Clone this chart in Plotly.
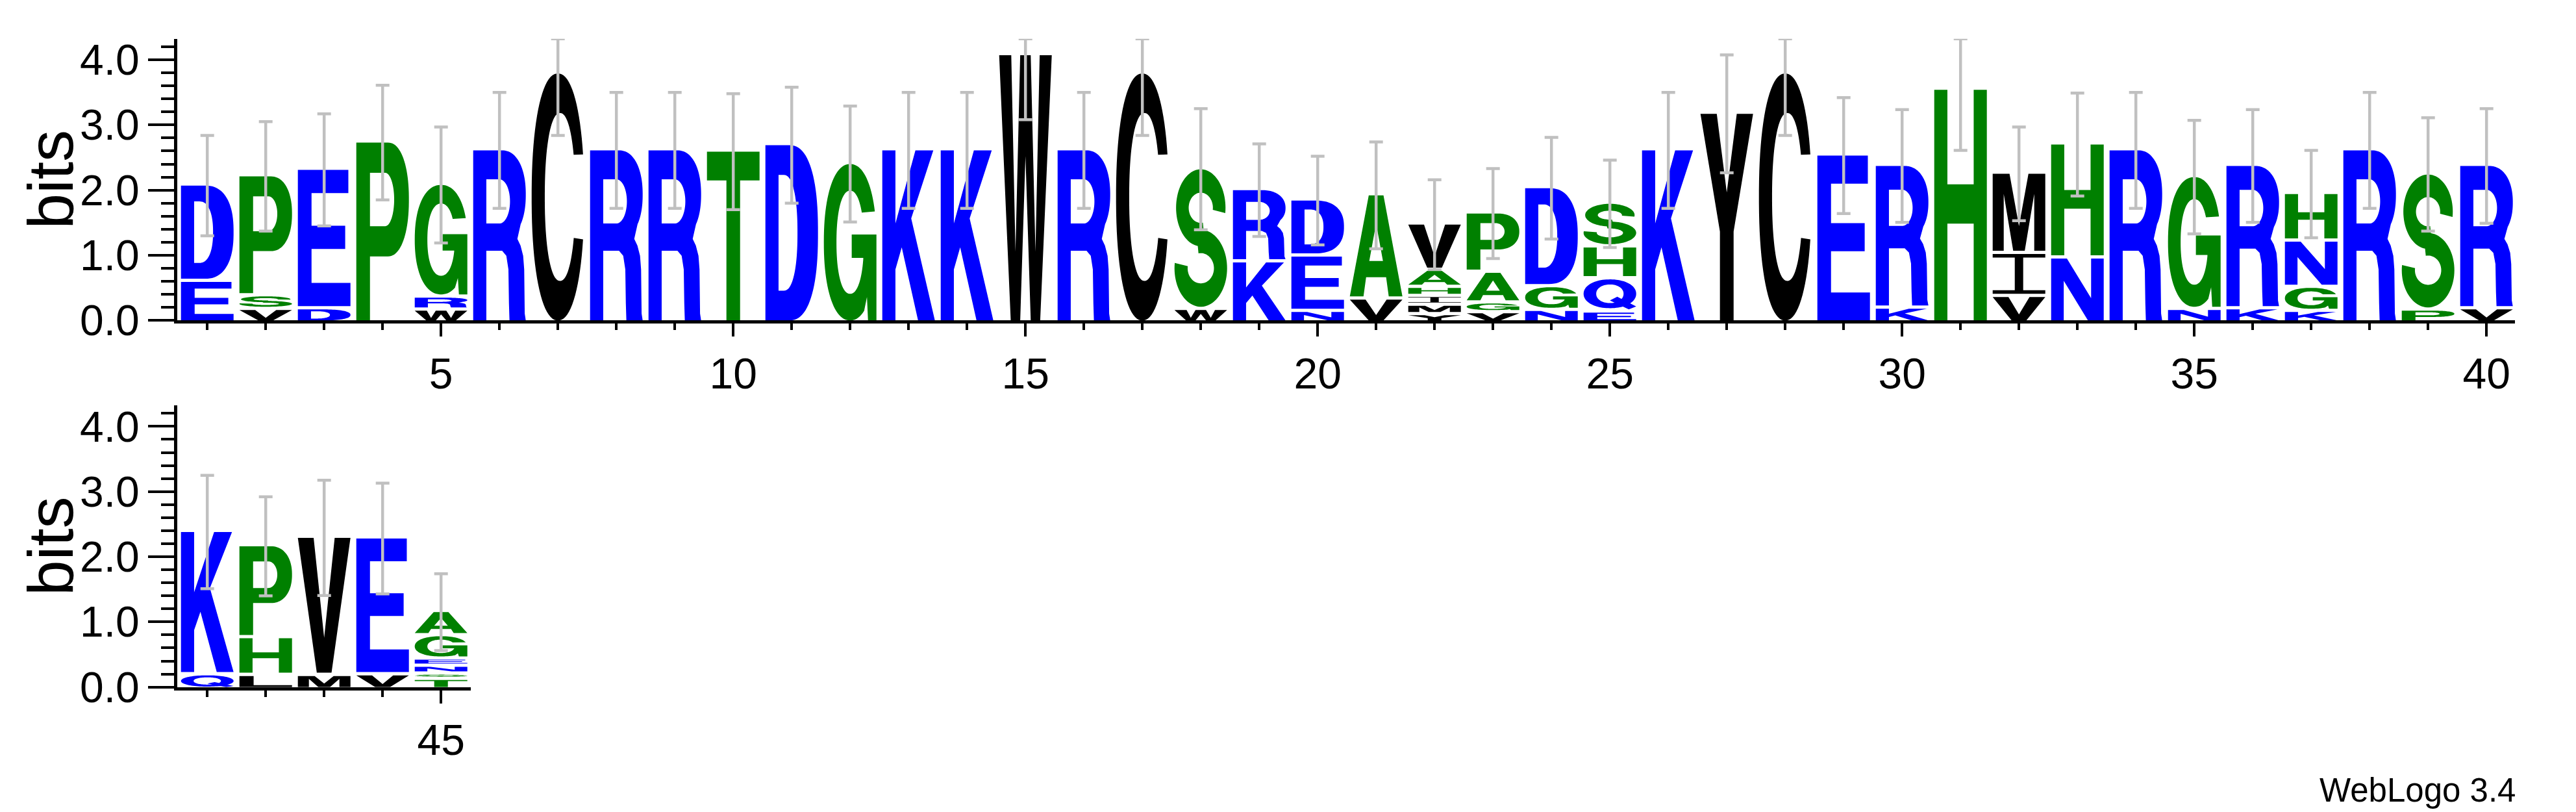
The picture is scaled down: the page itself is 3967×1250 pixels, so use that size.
import numpy as np
import plotly.graph_objects as go

W, H = 3967, 1250

# ---------------- data ----------------
positions = list(range(1, 46))
stack_letters = ["ED", "VSP", "DE", "P", "WRG", "R", "C", "R", "R", "T",
                 "D", "G", "K", "K", "W", "R", "C", "WS", "KR", "NED",
                 "VA", "YMIHAV", "VGAP", "NGD", "EQHS", "K", "Y", "C", "E", "KR",
                 "H", "VIM", "NH", "R", "NG", "KR", "KGNH", "R", "PS", "VR",
                 "QK", "LHP", "MV", "VE", "TSNEGA"]
stack_heights = [[0.59, 1.48], [0.16, 0.21, 1.84], [0.17, 2.14], [2.73], [0.15, 0.20, 1.73],
                 [2.61], [3.79], [2.61], [2.61], [2.59],
                 [2.69], [2.40], [2.61], [2.61], [4.07],
                 [2.61], [3.79], [0.16, 2.16], [0.89, 1.11], [0.13, 0.85, 0.86],
                 [0.32, 1.60], [0.08, 0.145, 0.135, 0.14, 0.26, 0.71], [0.11, 0.15, 0.47, 0.91],
                 [0.145, 0.365, 1.52], [0.12, 0.51, 0.49, 0.67],
                 [2.61], [3.17], [3.79], [2.53], [0.18, 2.19],
                 [3.54], [0.36, 0.66, 1.23], [0.95, 1.75], [2.61], [0.16, 2.04],
                 [0.17, 2.20], [0.13, 0.37, 0.71, 0.73], [2.61], [0.15, 2.09], [0.17, 2.20],
                 [0.18, 2.20], [0.17, 0.58, 1.41], [0.17, 2.12], [0.18, 2.10],
                 [0.11, 0.08, 0.12, 0.11, 0.36, 0.37]]
error_half = [0.77, 0.84, 0.86, 0.88, 0.89, 0.89, 0.95, 0.89, 0.89, 0.89,
              0.89, 0.89, 0.89, 0.89, 0.99, 0.89, 0.95, 0.93, 0.71, 0.68,
              0.82, 0.69, 0.69, 0.78, 0.67, 0.89, 0.905, 0.95, 0.89, 0.865,
              0.93, 0.72, 0.79, 0.89, 0.87, 0.865, 0.67, 0.89, 0.87, 0.88,
              0.87, 0.76, 0.885, 0.85, 0.59]
top_xticks = [5, 10, 15, 20, 25, 30, 35, 40]
bottom_xticks = [45]
y_tick_vals = [0, 1, 2, 3, 4]
y_tick_text = ["0.0", "1.0", "2.0", "3.0", "4.0"]

MAXBITS = np.log2(20)
GAP = 0.05
colors = {}
for c in "DERKNQ":
    colors[c] = "#0000FF"
for c in "PSGTAH":
    colors[c] = "#008000"
for c in "VWCYMIL":
    colors[c] = "#000000"

FONT = "Liberation Sans, Arial, Helvetica, sans-serif"


# ---------------- glyph outlines (unit box) ----------------
def arc(cx, cy, rx, ry, a0, a1, n=48, p=2.0):
    t = np.radians(np.linspace(a0, a1, n))
    c, s = np.cos(t), np.sin(t)
    e = 2.0 / p
    x = cx + rx * np.sign(c) * np.abs(c) ** e
    y = cy + ry * np.sign(s) * np.abs(s) ** e
    return list(zip(x, y))


def rect(x0, y0, x1, y1):
    return [(x0, y0), (x1, y0), (x1, y1), (x0, y1)]


def glyph(L):
    if L == "E":
        return [(rect(0, 0, 0.26, 1), 0), (rect(0, 0.83, 0.96, 1), 0),
                (rect(0, 0.42, 0.9, 0.59), 0), (rect(0, 0, 1, 0.17), 0)]
    if L == "H":
        return [(rect(0, 0, 0.25, 1), 0), (rect(0.75, 0, 1, 1), 0), (rect(0, 0.42, 1, 0.59), 0)]
    if L == "I":
        return [(rect(0, 0, 1, 0.09), 0), (rect(0, 0.91, 1, 1), 0), (rect(0.42, 0, 0.58, 1), 0)]
    if L == "T":
        return [(rect(0, 0.83, 1, 1), 0), (rect(0.37, 0, 0.63, 1), 0)]
    if L == "L":
        return [(rect(0, 0, 0.27, 1), 0), (rect(0, 0, 1, 0.17), 0)]
    if L == "D":
        outer = [(0, 0), (0.45, 0)] + arc(0.45, 0.5, 0.55, 0.5, -90, 90, p=2.4) + [(0, 1)]
        hole = [(0.25, 0.17), (0.35, 0.17)] + arc(0.35, 0.5, 0.26, 0.33, -90, 90, p=2.3) + [(0.25, 0.83)]
        return [(outer, 0), (hole, 1)]
    if L == "P":
        outer = [(0, 0), (0.26, 0), (0.26, 0.36), (0.6, 0.36)] + arc(0.6, 0.68, 0.4, 0.32, -90, 90, p=2.2) + [(0, 1)]
        hole = [(0.26, 0.53), (0.55, 0.53)] + arc(0.55, 0.68, 0.17, 0.15, -90, 90) + [(0.26, 0.83)]
        return [(outer, 0), (hole, 1)]
    if L == "R":
        outer = [(0, 0), (0.25, 0), (0.25, 0.41), (0.55, 0.41), (0.63, 0.38), (0.67, 0.3),
                 (0.68, 0.1), (0.69, 0), (1.0, 0), (0.98, 0.04), (0.97, 0.3), (0.95, 0.38),
                 (0.9, 0.44), (0.84, 0.48)] + arc(0.55, 0.74, 0.45, 0.26, -40, 90, p=2.2) + [(0, 1)]
        hole = [(0.25, 0.57), (0.5, 0.57)] + arc(0.5, 0.7, 0.2, 0.13, -90, 90) + [(0.25, 0.83)]
        return [(outer, 0), (hole, 1)]
    if L == "C":
        pts = arc(0.5, 0.5, 0.5, 0.5, 18, 342, n=80, p=2.2) + arc(0.54, 0.5, 0.29, 0.34, 333, 28, n=80, p=2.2)
        return [(pts, 0)]
    if L == "G":
        pts = (arc(0.5, 0.5, 0.5, 0.5, 21, 300, n=80, p=2.2)
               + [(0.82, 0.15), (0.84, 0.0), (1.0, 0.0), (1.0, 0.55), (0.53, 0.55), (0.53, 0.40), (0.75, 0.40)]
               + arc(0.5, 0.5, 0.26, 0.33, 342.4, 33, n=80, p=2.2))
        return [(pts, 0)]
    if L == "S":
        top = arc(0.5, 0.72, 0.47, 0.28, -8, 280, n=70) + arc(0.5, 0.72, 0.23, 0.11, 280, -8, n=70)
        bot = arc(0.5, 0.28, 0.5, 0.28, 100, -188, n=70) + arc(0.5, 0.28, 0.25, 0.11, -188, 100, n=70)
        return [(top, 0), (bot, 0)]
    if L == "Q":
        outer = arc(0.5, 0.52, 0.5, 0.48, 0, 360, n=90, p=2.1)
        hole = arc(0.5, 0.52, 0.26, 0.31, 0, 360, n=90, p=2.1)
        tail = [(0.5, 0.3), (0.64, 0.42), (1.0, 0.1), (0.86, 0.0)]
        return [(outer, 0), (hole, 1), (tail, 0)]
    if L == "A":
        outer = [(0, 0), (0.26, 0), (0.31, 0.19), (0.69, 0.19), (0.74, 0), (1, 0), (0.64, 1), (0.36, 1)]
        hole = [(0.37, 0.35), (0.63, 0.35), (0.5, 0.72)]
        return [(outer, 0), (hole, 1)]
    if L == "V":
        return [([(0, 1), (0.3, 1), (0.5, 0.26), (0.7, 1), (1, 1), (0.64, 0), (0.36, 0)], 0)]
    if L == "W":
        return [([(0, 1), (0.23, 1), (0.31, 0.26), (0.4, 1), (0.6, 1), (0.69, 0.26), (0.77, 1), (1, 1),
                  (0.78, 0), (0.6, 0), (0.5, 0.62), (0.4, 0), (0.22, 0)], 0)]
    if L == "Y":
        return [([(0, 1), (0.31, 1), (0.5, 0.62), (0.69, 1), (1, 1), (0.63, 0.43), (0.63, 0),
                  (0.37, 0), (0.37, 0.43)], 0)]
    if L == "K":
        return [([(0, 0), (0.25, 0), (0.25, 0.3), (0.37, 0.43), (0.68, 0), (1.0, 0), (0.55, 0.6),
                  (0.97, 1), (0.63, 1), (0.25, 0.57), (0.25, 1), (0, 1)], 0)]
    if L == "M":
        return [([(0, 0), (0.21, 0), (0.21, 0.74), (0.39, 0), (0.61, 0), (0.79, 0.74), (0.79, 0),
                  (1, 0), (1, 1), (0.68, 1), (0.5, 0.32), (0.32, 1), (0, 1)], 0)]
    if L == "N":
        return [([(0, 0), (0.24, 0), (0.24, 0.64), (0.7, 0), (1, 0), (1, 1), (0.76, 1), (0.76, 0.36),
                  (0.3, 1), (0, 1)], 0)]
    raise ValueError(L)


def signed_area(pts):
    a = 0.0
    for i in range(len(pts)):
        x0, y0 = pts[i]
        x1, y1 = pts[(i + 1) % len(pts)]
        a += x0 * y1 - x1 * y0
    return a / 2


def glyph_path(L, x0, x1, y0, y1):
    parts = []
    for pts, hole in glyph(L):
        a = signed_area(pts)
        if (a > 0) == bool(hole):
            pts = pts[::-1]
        coords = [(x0 + u * (x1 - x0), y0 + v * (y1 - y0)) for u, v in pts]
        s = "M" + " L".join(f"{x:.4f},{y:.4f}" for x, y in coords) + " Z"
        parts.append(s)
    return " ".join(parts)


# ---------------- build figure ----------------
shapes = []
totals = []
for p, letters, hts in zip(positions, stack_letters, stack_heights):
    xr, yr = ("x", "y") if p <= 40 else ("x2", "y2")
    cum = 0.0
    for i, (L, h) in enumerate(zip(letters, hts)):
        b = cum + (GAP if i > 0 else 0.0)
        t = cum + h
        shapes.append(dict(type="path", path=glyph_path(L, p - 0.45, p + 0.45, b, t),
                           xref=xr, yref=yr, fillcolor=colors[L], fillrule="nonzero",
                           line=dict(width=0), layer="below"))
        cum = t
    totals.append(cum)

fig = go.Figure()
for sel, xa, ya in [(lambda q: q <= 40, "x", "y"), (lambda q: q > 40, "x2", "y2")]:
    xs = [p for p in positions if sel(p)]
    ys = [totals[p - 1] for p in xs]
    up = [min(error_half[p - 1], MAXBITS - totals[p - 1]) for p in xs]
    dn = [error_half[p - 1] for p in xs]
    fig.add_trace(go.Scatter(x=xs, y=ys, xaxis=xa, yaxis=ya, mode="markers",
                             marker=dict(size=1, color="rgba(0,0,0,0)"),
                             error_y=dict(type="data", symmetric=False, array=up, arrayminus=dn,
                                          color="#c0c0c0", thickness=4.5, width=10.5),
                             cliponaxis=False, showlegend=False, hoverinfo="skip"))

PX = 90.0
X0PX = 221.2
BIT = 103.8
TOP_BASE = 497
BOT_BASE = 1081
LEFT = 265


def xr_from_px(a, b, off=0):
    return [(a - X0PX) / PX + off, (b - X0PX) / PX + off]


tickfont = dict(family=FONT, size=66, color="black")
common_x = dict(showline=True, linewidth=5, linecolor="black", ticks="outside", ticklen=20,
                tickwidth=4, tickcolor="black", showgrid=False, zeroline=False, tickfont=tickfont,
                minor=dict(ticks="outside", dtick=1, tick0=0, ticklen=10, tickwidth=4, tickcolor="black",
                           showgrid=False))
common_y = dict(showline=True, linewidth=5, linecolor="black", ticks="outside", ticklen=40,
                tickwidth=4, tickcolor="black", showgrid=False, zeroline=False, tickfont=tickfont,
                range=[0, MAXBITS], tickvals=y_tick_vals, ticktext=y_tick_text,
                minor=dict(ticks="outside", dtick=0.2, tick0=0, ticklen=20, tickwidth=4, tickcolor="black",
                           showgrid=False))

fig.update_layout(
    width=W, height=H, margin=dict(l=0, r=0, t=0, b=0),
    paper_bgcolor="white", plot_bgcolor="white", showlegend=False,
    shapes=shapes,
    xaxis=dict(common_x, domain=[LEFT / W, 3865 / W], range=xr_from_px(LEFT, 3865),
               tickvals=top_xticks, ticktext=[str(v) for v in top_xticks], anchor="y"),
    yaxis=dict(common_y, domain=[1 - TOP_BASE / H, 1 - (TOP_BASE - MAXBITS * BIT) / H], anchor="x"),
    xaxis2=dict(common_x, domain=[LEFT / W, 717 / W], range=xr_from_px(LEFT, 717, 40),
                tickvals=bottom_xticks, ticktext=[str(v) for v in bottom_xticks], anchor="y2"),
    yaxis2=dict(common_y, domain=[1 - BOT_BASE / H, 1 - (BOT_BASE - MAXBITS * BIT) / H], anchor="x2"),
    annotations=[
        dict(text="bits", x=70 / W, y=1 - (TOP_BASE - MAXBITS * BIT / 2) / H, xref="paper", yref="paper",
             textangle=-90, showarrow=False, xanchor="center", yanchor="middle",
             font=dict(family=FONT, size=98, color="black")),
        dict(text="bits", x=70 / W, y=1 - (BOT_BASE - MAXBITS * BIT / 2) / H, xref="paper", yref="paper",
             textangle=-90, showarrow=False, xanchor="center", yanchor="middle",
             font=dict(family=FONT, size=98, color="black")),
        dict(text="WebLogo 3.4", x=3868 / W, y=1 - 1245 / H, xref="paper", yref="paper",
             showarrow=False, xanchor="right", yanchor="middle",
             font=dict(family=FONT, size=51, color="black")),
    ],
)

fig.write_html("out.html")
